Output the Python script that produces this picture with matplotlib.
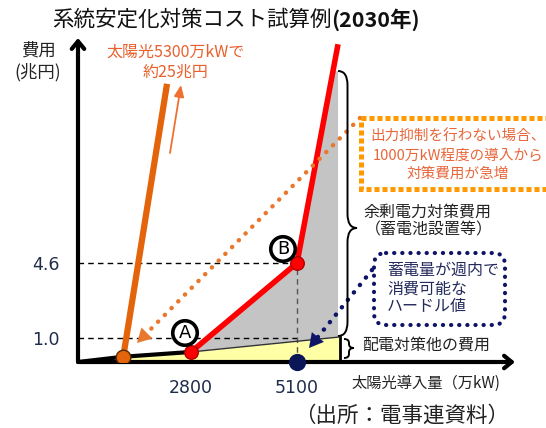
import numpy as np
import matplotlib
matplotlib.use("Agg")
import matplotlib.pyplot as plt
from matplotlib.patches import FancyBboxPatch, Rectangle, PathPatch
from matplotlib.path import Path

plt.rcParams['font.family'] = ['Noto Sans CJK JP', 'DejaVu Sans']

# solar capacity (万kW) vs. cost (兆円), schematic values
base_x = [1330, 2800, 6030]        # distribution-side cost curve
base_y = [0.10, 0.33, 1.05]
red_x = [2800, 5100, 5990]         # curtailment-free surplus cost curve
red_y = [0.33, 4.6, 15.1]
orange_x = [1330, 2280]            # no-curtailment case
orange_y = [0.10, 13.2]
tick_x = [2800, 5100]
tick_y = [1.0, 4.6]
tick_x_labels = ['2800', '5100']
tick_y_labels = ['1.0', '4.6']
gray_top = 13.8
gray_right = 5990

XLIM = (348, 9830)
YLIM = (-0.152, 15.4)

W, H = 546, 428
fig = plt.figure(figsize=(W / 100, H / 100), dpi=100)
fig.patch.set_facecolor('white')

ax = fig.add_axes([78 / W, (H - 362) / H, (515 - 78) / W, (362 - 38) / H])
ax.set_xlim(*XLIM)
ax.set_ylim(*YLIM)
for s in ax.spines.values():
    s.set_visible(False)

# axis arrows
arrow_kw = dict(arrowstyle='->,head_length=0.55,head_width=0.45', lw=3,
                color='black', shrinkA=0, shrinkB=0)
ax.annotate('', xy=(0, 1), xytext=(0, 0), xycoords='axes fraction',
            arrowprops=arrow_kw, annotation_clip=False)
ax.annotate('', xy=(1, 0), xytext=(0, 0), xycoords='axes fraction',
            arrowprops=arrow_kw, annotation_clip=False)

ax.set_xticks(tick_x, tick_x_labels)
ax.set_yticks(tick_y, tick_y_labels)
ax.tick_params(length=0, labelcolor='#1F2D4A')
ax.tick_params(axis='x', pad=12)
ax.tick_params(axis='y', pad=13)
for lbl in ax.get_xticklabels() + ax.get_yticklabels():
    lbl.set_family('DejaVu Sans')
    lbl.set_fontsize(12.5)

y0 = YLIM[0]

# yellow band: distribution cost
ax.fill_between(base_x, base_y, y0, color='#FFFFA6', lw=0, zorder=1)
ax.plot([base_x[-1], base_x[-1]], [y0, base_y[-1]], color='black', lw=2, zorder=3)

# gray band: surplus power cost
xg = np.interp(gray_top, red_y, red_x)
yb = np.interp(gray_right, base_x, base_y)
gray_poly = [(red_x[0], red_y[0]), (red_x[1], red_y[1]), (xg, gray_top),
             (gray_right, gray_top), (gray_right, yb)]
ax.fill([p[0] for p in gray_poly], [p[1] for p in gray_poly],
        color='#C4C4C4', lw=0, zorder=1)

# dashed guides
ax.plot([XLIM[0], red_x[1]], [tick_y[1], tick_y[1]], ls=(0, (4, 3)), color='black', lw=1, zorder=2)
ax.plot([XLIM[0], red_x[1]], [tick_y[0], tick_y[0]], ls=(0, (4, 3)), color='black', lw=1, zorder=2)
ax.plot([red_x[1], red_x[1]], [y0, red_y[1]], ls=(0, (4, 3)), color='#555555', lw=1, zorder=2)

# base line
ax.plot([XLIM[0], base_x[0], base_x[1]], [y0, base_y[0], base_y[1]], color='black', lw=3,
        solid_capstyle='butt', zorder=3)
ax.plot(base_x[1:], base_y[1:], color='#333333', lw=1, zorder=3)

# orange and red curves
ax.plot(orange_x, orange_y, color='#E4640C', lw=4.5, solid_capstyle='butt', zorder=4)
ax.plot(red_x, red_y, color='#FF0000', lw=4, solid_capstyle='butt', zorder=4)

ax.scatter(orange_x[:1], orange_y[:1], s=110, c='#E4640C', edgecolors='#5A2A00', lw=1, zorder=6)
ax.scatter(red_x[:2], red_y[:2], s=95, c='#FF0000', edgecolors='#B00000', lw=1, zorder=6)
ax.scatter([red_x[1]], [y0], s=130, c='#0A1656', edgecolors='#0A1656', zorder=6, clip_on=False)

# overlay in pixel units for annotations
ov = fig.add_axes([0, 0, 1, 1])
ov.set_xlim(0, W)
ov.set_ylim(H, 0)
ov.axis('off')

# circled labels
for lab, (cx, cy) in {'A': (185, 333), 'B': (283, 249)}.items():
    ov.text(cx, cy, lab, ha='center', va='center', fontsize=13, family='DejaVu Sans',
            bbox=dict(boxstyle='circle,pad=0.18', fc='white', ec='black', lw=2.6), zorder=7)

# thin orange arrow
ov.annotate('', xy=(181, 85), xytext=(170, 153),
            arrowprops=dict(arrowstyle='-|>,head_length=0.7,head_width=0.3', lw=1.3,
                            color='#F07030', shrinkA=0, shrinkB=0))


def dotted_arrow(x0, y0_, x1, y1, color, lw=3.2):
    # dotted shaft plus solid triangular head
    v = np.array([x1 - x0, y1 - y0_], dtype=float)
    v /= np.hypot(*v)
    xe, ye = x1 - v[0] * 10, y1 - v[1] * 10
    ov.plot([x0, xe], [y0_, ye], color=color, lw=lw, ls=(0, (0.05, 2.1)),
            dash_capstyle='round', zorder=5)
    ov.annotate('', xy=(x1, y1), xytext=(xe - v[0] * 2, ye - v[1] * 2),
                arrowprops=dict(arrowstyle='-|>,head_length=1.0,head_width=0.55', lw=0.1,
                                color=color, shrinkA=0, shrinkB=0), zorder=5)


dotted_arrow(360, 118, 137, 343, '#E8782E')
dotted_arrow(372, 270, 309, 348, '#0E1466')

# orange dotted box
ov.add_patch(Rectangle((361, 118), 200, 71, fill=False, ec='#FF9900', lw=3.6,
                       ls=(0, (1, 0.6)), zorder=5))
for txt, y in [('出力抑制を行わない場合、', 137), ('1000万kW程度の導入から', 156),
               ('対策費用が急増', 174)]:
    ov.text(458, y, txt, ha='center', va='center', fontsize=10.5, color='#E8663A')

# navy dotted box
ov.add_patch(FancyBboxPatch((374, 253), 131, 72, boxstyle='round,pad=0,rounding_size=12',
                            fill=False, ec='#0E1466', lw=3, ls=(0, (0.05, 1.9)),
                            capstyle='round', zorder=5))
for txt, y in [('蓄電量が週内で', 270), ('消費可能な', 289), ('ハードル値', 307)]:
    ov.text(387, y, txt, ha='left', va='center', fontsize=11.5, color='#242A5C')


def brace(x0, x1, ytop, ymid, ybot, r):
    xm = (x0 + x1) / 2
    verts = [(x0, ytop), (xm, ytop), (xm, ytop + r), (xm, ymid - r),
             (xm, ymid), (x1, ymid), (xm, ymid), (xm, ymid + r),
             (xm, ybot - r), (xm, ybot), (x0, ybot)]
    codes = [Path.MOVETO, Path.CURVE3, Path.CURVE3, Path.LINETO,
             Path.CURVE3, Path.CURVE3, Path.CURVE3, Path.CURVE3,
             Path.LINETO, Path.CURVE3, Path.CURVE3]
    ov.add_patch(PathPatch(Path(verts, codes), fill=False, lw=1.4, ec='black', zorder=5))


brace(338, 357, 71, 228, 336, 14)
brace(344, 354, 339, 348, 358, 4)

ov.text(427, 212, '余剰電力対策費用', ha='center', va='center', fontsize=11.5, color='#222222')
ov.text(429, 230, '（蓄電池設置等）', ha='center', va='center', fontsize=11.5, color='#222222')
ov.text(362, 345, '配電対策他の費用', ha='left', va='center', fontsize=11.5, color='#222222')
ov.text(352, 383, '太陽光導入量（万kW)', ha='left', va='center', fontsize=11, color='#222222')

# orange label
ov.text(176, 52, '太陽光5300万kWで', ha='center', va='center', fontsize=11.5, color='#E8602C')
ov.text(176, 72, '約25兆円', ha='center', va='center', fontsize=11.5, color='#E8602C')

# y-axis title
ov.text(38, 51, '費用', ha='center', va='center', fontsize=12.5, color='#222222')
ov.text(38, 72, '(兆円)', ha='center', va='center', fontsize=12.5, color='#222222')

# title
t1 = ov.text(52, 20, '系統安定化対策コスト試算例', ha='left', va='center',
             fontsize=15.5, color='#111111')
ov.annotate('(2030年)', xy=(1, 0.5), xycoords=t1, ha='left', va='center',
            fontsize=15.5, fontweight='bold', color='#111111')

# source
ov.text(402, 416, '（出所：電事連資料）', ha='center', va='center', fontsize=15.5, color='#222222')

fig.savefig('out.png', dpi=100)
